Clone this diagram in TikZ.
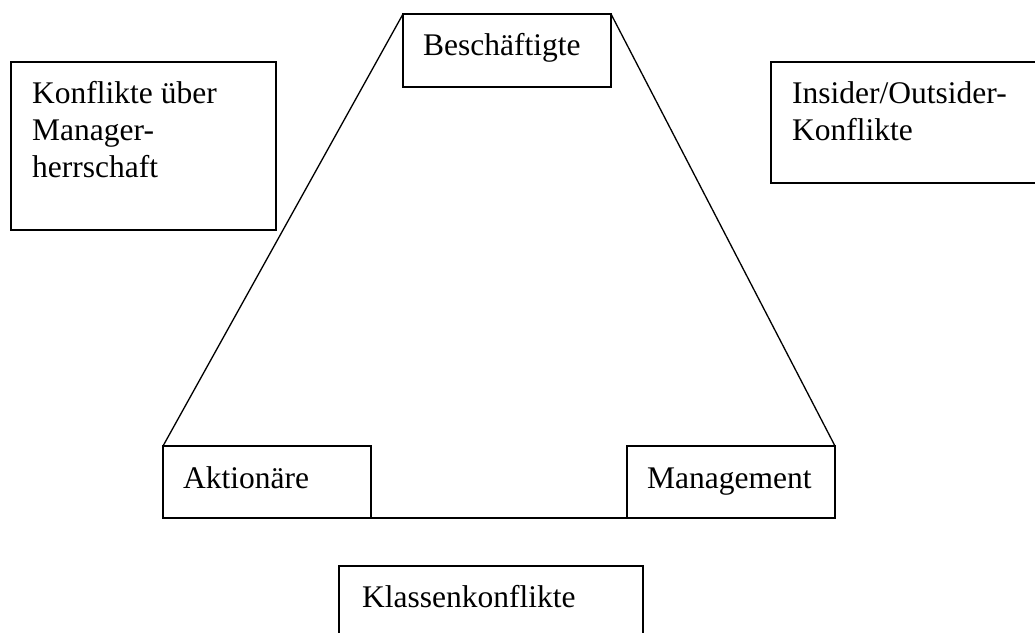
\documentclass[tikz,border=0pt]{standalone}
\usepackage{fontspec}
\setmainfont{Liberation Serif}
\begin{document}
\begin{tikzpicture}[x=1pt,y=-1pt,
  box/.style={draw=black, line width=1.6pt, anchor=north west, inner sep=0pt, outer sep=0pt},
  lbl/.style={anchor=base west, inner sep=0pt, font=\fontsize{31.5}{36.7}\selectfont},
  conn/.style={draw=black, line width=1.3pt},
  flat/.style={draw=black, line width=1.8pt}]
\clip (0,0) rectangle (1035,632);
\fill[white] (0,0) rectangle (1035,632);
% boxes
\node[box, minimum width=208pt, minimum height=73pt] (besch) at (403,14) {};
\node[box, minimum width=265pt, minimum height=168pt] (mgrk) at (11,62) {};
\node[box, minimum width=270pt, minimum height=121pt] (inout) at (771,62) {};
\node[box, minimum width=208pt, minimum height=72pt] (akt) at (163,446) {};
\node[box, minimum width=208pt, minimum height=72pt] (mgmt) at (627,446) {};
\node[box, minimum width=304pt, minimum height=80pt] (klass) at (339,566) {};
% texts
\node[lbl] (tbesch) at (423,55) {Beschäftigte};
\node[lbl] (tmgrk1) at (32,103) {Konflikte über};
\node[lbl] (tmgrk2) at (32,140) {Manager-};
\node[lbl] (tmgrk3) at (32,177) {herrschaft};
\node[lbl] (tinout1) at (792,103) {Insider/Outsider-};
\node[lbl] (tinout2) at (792,140) {Konflikte};
\node[lbl] (takt) at (183,488) {Aktionäre};
\node[lbl] (tmgmt) at (647,488) {Management};
\node[lbl] (tklass) at (362,607) {Klassenkonflikte};
% connectors
\draw[conn] (besch.north west) -- (akt.north west);
\draw[conn] (besch.north east) -- (mgmt.north east);
\draw[flat] (akt.south east) -- (mgmt.south west);
\end{tikzpicture}
\end{document}
